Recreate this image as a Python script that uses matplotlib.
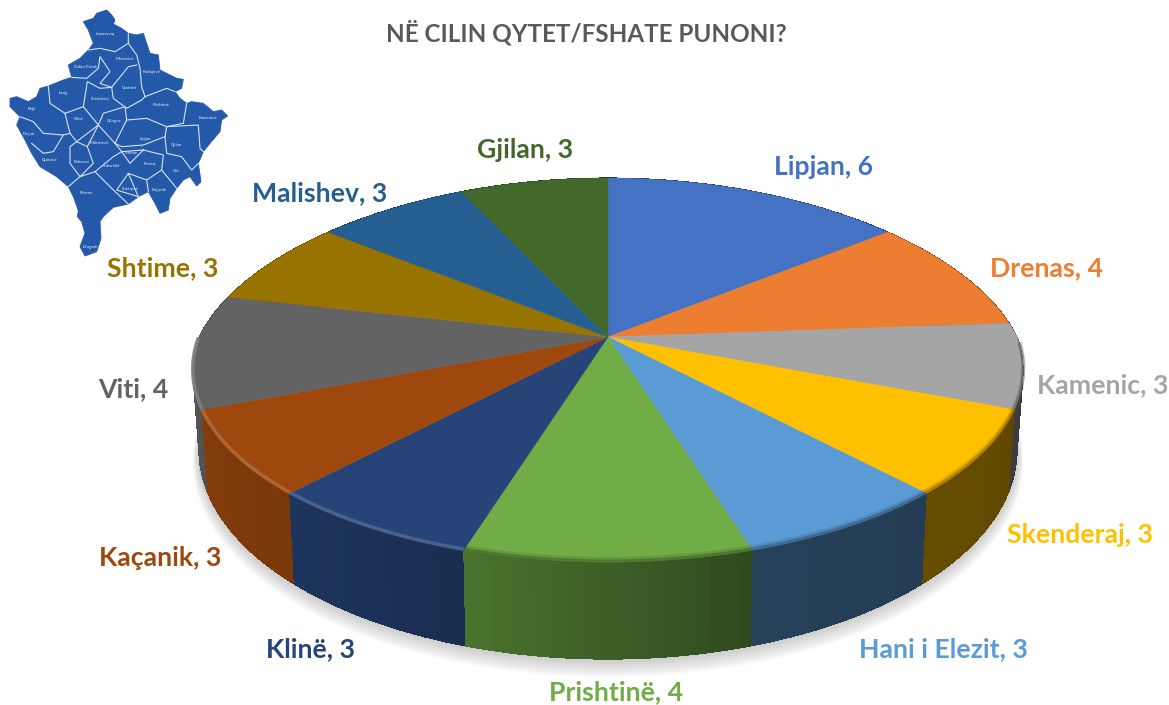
import numpy as np
import matplotlib
matplotlib.use('Agg')
import matplotlib.pyplot as plt
from matplotlib.colors import to_rgb

categories = ['Lipjan', 'Drenas', 'Kamenic', 'Skenderaj', 'Hani i Elezit', 'Prishtinë',
              'Klinë', 'Kaçanik', 'Viti', 'Shtime', 'Malishev', 'Gjilan']
values = [6, 4, 3, 3, 3, 4, 3, 3, 4, 3, 3, 3]
colors = ['#4472C4', '#ED7D31', '#A5A5A5', '#FFC000', '#5B9BD5', '#70AD47',
          '#264478', '#9E480E', '#636363', '#997300', '#255E91', '#43682B']
label_x = [824, 1047, 1103, 1080, 943, 616, 310, 160, 133, 163, 320, 525]
label_y = [167, 268, 385, 535, 649, 692, 649, 558, 389, 268, 193, 150]
title = 'NË CILIN QYTET/FSHATE PUNONI?'

# map of the inset, in pixels of a 3x crop
map_outline = [(320, 30), (335, 45), (345, 60), (340, 72), (365, 85), (385, 100), (410, 105), (430, 100),
               (440, 130), (450, 160), (475, 165), (480, 210), (500, 220), (530, 235), (550, 238), (545, 265),
               (525, 275), (540, 295), (560, 310), (575, 305), (610, 310), (640, 335), (665, 330), (683, 348),
               (665, 360), (660, 395), (630, 430), (610, 455), (595, 490), (603, 545), (590, 558), (570, 530),
               (550, 540), (530, 565), (510, 595), (505, 630), (480, 640), (465, 610), (445, 575), (415, 590),
               (385, 612), (340, 622), (310, 650), (300, 665), (303, 715), (290, 755), (255, 768), (240, 740),
               (255, 700), (245, 665), (232, 650), (235, 632), (220, 590), (205, 560), (170, 530), (120, 500),
               (95, 460), (75, 420), (50, 375), (60, 350), (30, 320), (30, 295), (50, 290), (85, 305),
               (110, 290), (120, 265), (145, 258), (190, 240), (215, 232), (205, 195), (240, 175), (265, 150),
               (280, 130), (265, 90), (250, 65), (280, 55), (290, 40)]
map_borders = [
    [(265, 150), (300, 145), (345, 155), (385, 130), (385, 100)],
    [(385, 130), (410, 165), (420, 205), (425, 260), (435, 290), (500, 265), (525, 275)],
    [(215, 232), (260, 235), (295, 205), (300, 170), (330, 215), (300, 250), (335, 262), (385, 200), (410, 195)],
    [(145, 258), (150, 310), (195, 340), (250, 320), (262, 245), (300, 265), (335, 262), (340, 295), (380, 325), (425, 300), (435, 290)],
    [(195, 340), (210, 400), (230, 425), (295, 375), (250, 320)],
    [(60, 350), (100, 365), (130, 400), (190, 405), (210, 400)],
    [(95, 430), (130, 460), (160, 455), (190, 405)],
    [(230, 425), (210, 440), (210, 490), (240, 530), (205, 560)],
    [(230, 425), (262, 440), (280, 490), (240, 530), (285, 515), (340, 570), (385, 612)],
    [(295, 375), (310, 340), (375, 320), (380, 360), (345, 430), (365, 455), (340, 470), (285, 515)],
    [(262, 440), (295, 375), (345, 430)],
    [(380, 360), (440, 355), (500, 380), (550, 370), (560, 310)],
    [(345, 430), (365, 440), (430, 435), (495, 410), (500, 380)],
    [(500, 380), (595, 375), (600, 445), (610, 455)],
    [(495, 410), (500, 460), (545, 470), (575, 510), (595, 490)],
    [(430, 450), (390, 490), (365, 455), (430, 450), (490, 465), (485, 510), (530, 565)],
    [(385, 520), (350, 570), (415, 590), (385, 520), (440, 540), (485, 510)],
    [(440, 540), (445, 575)],
]
map_towns = ['Leposaviq', 'Zubin Potok', 'Mitrovicë', 'Podujevë', 'Istog', 'Skënderaj', 'Vushtrri', 'Pejë',
             'Klinë', 'Gllogoc', 'Prishtinë', 'Kamenicë', 'Deçan', 'Malishevë', 'Lipjan', 'Gjilan', 'Gjakovë',
             'Rahovec', 'Suharekë', 'Shtime', 'Ferizaj', 'Viti', 'Prizren', 'Shtërpcë', 'Kaçanik', 'Dragash']
map_town_x = [315, 257, 375, 455, 190, 300, 390, 95, 237, 342, 482, 625, 85, 297, 435, 530, 150,
              245, 335, 395, 450, 530, 260, 392, 478, 272]
map_town_y = [102, 202, 176, 215, 278, 296, 265, 328, 357, 364, 316, 355, 403, 428, 417, 436, 480,
              487, 498, 458, 492, 513, 578, 568, 570, 740]

MAP_BLUE = '#2459AA'

# perspective of the pie, top face and bottom rim
K = 0.172
BACK_SQUEEZE = 0.05
CX = 608
TOP_A, TOP_B, TOP_Y = 409, 186.4, 337
LOW_A, LOW_B, LOW_Y = 403, 203, 414

# wall brightness against angle clockwise from 12 o'clock
SHADE_ANGLE = [60, 100, 125, 150, 163, 197, 215, 255, 280, 300]
SHADE_LEVEL = [0.30, 0.35, 0.39, 0.40, 0.42, 0.67, 0.75, 0.85, 0.60, 0.50]


def _project(angle, a, b, y0):
    t = np.radians(angle)
    c = np.cos(t)
    w = 1 + K * c
    squeeze = 1 - BACK_SQUEEZE * np.clip(c, 0, None)
    return CX + a * np.sin(t) / w * squeeze, y0 - b * c / w


def _mix(color, level):
    return tuple(c * level for c in to_rgb(color))


def _lighten(color, amount):
    return tuple(c + (1 - c) * amount for c in to_rgb(color))


def _draw_shadow(ax):
    angles = np.linspace(0, 360, 361)
    for i in range(12, 0, -1):
        x, y = _project(angles, LOW_A + i * 0.5, LOW_B + i * 0.5, LOW_Y + i * 0.9)
        ax.fill(x, y, color='#808080', alpha=0.035, lw=0, zorder=1)


def _draw_walls(ax, edges):
    quads = []
    for start, end, color in zip(edges[:-1], edges[1:], colors):
        steps = np.linspace(start, end, int(end - start) + 2)
        for a0, a1 in zip(steps[:-1], steps[1:]):
            # a bit wider than the step so no seams show, but kept inside the slice
            quads.append((max(a0 - 0.6, start), min(a1 + 0.6, end), (a0 + a1) / 2, color))
    quads.sort(key=lambda q: -np.cos(np.radians(q[2])))
    for a0, a1, mid, color in quads:
        pair = np.array([a0, a1])
        tx, ty = _project(pair, TOP_A, TOP_B, TOP_Y)
        lx, ly = _project(pair[::-1], LOW_A, LOW_B, LOW_Y)
        shade = np.interp(mid, SHADE_ANGLE, SHADE_LEVEL)
        ax.fill(np.r_[tx, lx], np.r_[ty, ly], color=_mix(color, shade), lw=0, antialiased=False, zorder=2)


def _draw_top(ax, edges):
    for start, end, color in zip(edges[:-1], edges[1:], colors):
        arc = np.linspace(start, end, 80)
        x, y = _project(arc, TOP_A, TOP_B, TOP_Y)
        ax.fill(np.r_[CX, x], np.r_[TOP_Y, y], color=color, lw=0.3, zorder=3)


def _draw_rim(ax, edges):
    for start, end, color in zip(edges[:-1], edges[1:], colors):
        arc = np.linspace(start, end, 60)
        arc = arc[(arc > 92) & (arc < 270)]
        if len(arc) < 2:
            continue
        x, y = _project(arc, TOP_A, TOP_B, TOP_Y)
        mid = (arc[0] + arc[-1]) / 2
        if mid > 185:
            ax.plot(x, y - 1, color=_lighten(color, 0.18), lw=2.6, alpha=0.9, zorder=4, solid_capstyle='butt')
        else:
            dark = _mix(color, 0.45)
            ax.plot(x, y - 3, color=dark, lw=3.2, alpha=0.18, zorder=4, solid_capstyle='butt')
            ax.plot(x, y - 1, color=dark, lw=2.4, alpha=0.45, zorder=4, solid_capstyle='butt')


def _draw_map(ax):
    xs = [p[0] / 3 for p in map_outline]
    ys = [p[1] / 3 for p in map_outline]
    ax.fill(xs, ys, color=MAP_BLUE, lw=0.6, zorder=5)
    for border in map_borders:
        ax.plot([p[0] / 3 for p in border], [p[1] / 3 for p in border],
                color='#D5E1F2', lw=0.8, zorder=6)
    for town, x, y in zip(map_towns, map_town_x, map_town_y):
        ax.text(x / 3, y / 3, town, color='#E6EDF7', fontsize=3.2, ha='center', va='center', zorder=7)


def _build_plot(fig, ax):
    ax.set_xlim(0, 1169)
    ax.set_ylim(705, 0)
    ax.axis('off')

    edges = np.r_[0, np.cumsum(values)] / sum(values) * 360

    _draw_shadow(ax)
    _draw_walls(ax, edges)
    _draw_top(ax, edges)
    _draw_rim(ax, edges)
    _draw_map(ax)

    for name, value, color, x, y in zip(categories, values, colors, label_x, label_y):
        ax.text(x, y, '%s, %d' % (name, value), color=color, fontsize=19.2, fontweight='bold',
                ha='center', va='center', zorder=8)
    ax.text(586, 33, title, color='#595959', fontsize=17.4, fontweight='bold',
            ha='center', va='center', zorder=8)


plt.rcParams['font.family'] = ['Lato', 'DejaVu Sans']

fig1 = plt.figure(figsize=(11.69, 7.05), dpi=100)
ax1 = fig1.add_axes([0, 0, 1, 1])

_build_plot(fig1, ax1)

plt.savefig('out.png', dpi=100)
plt.clf()
